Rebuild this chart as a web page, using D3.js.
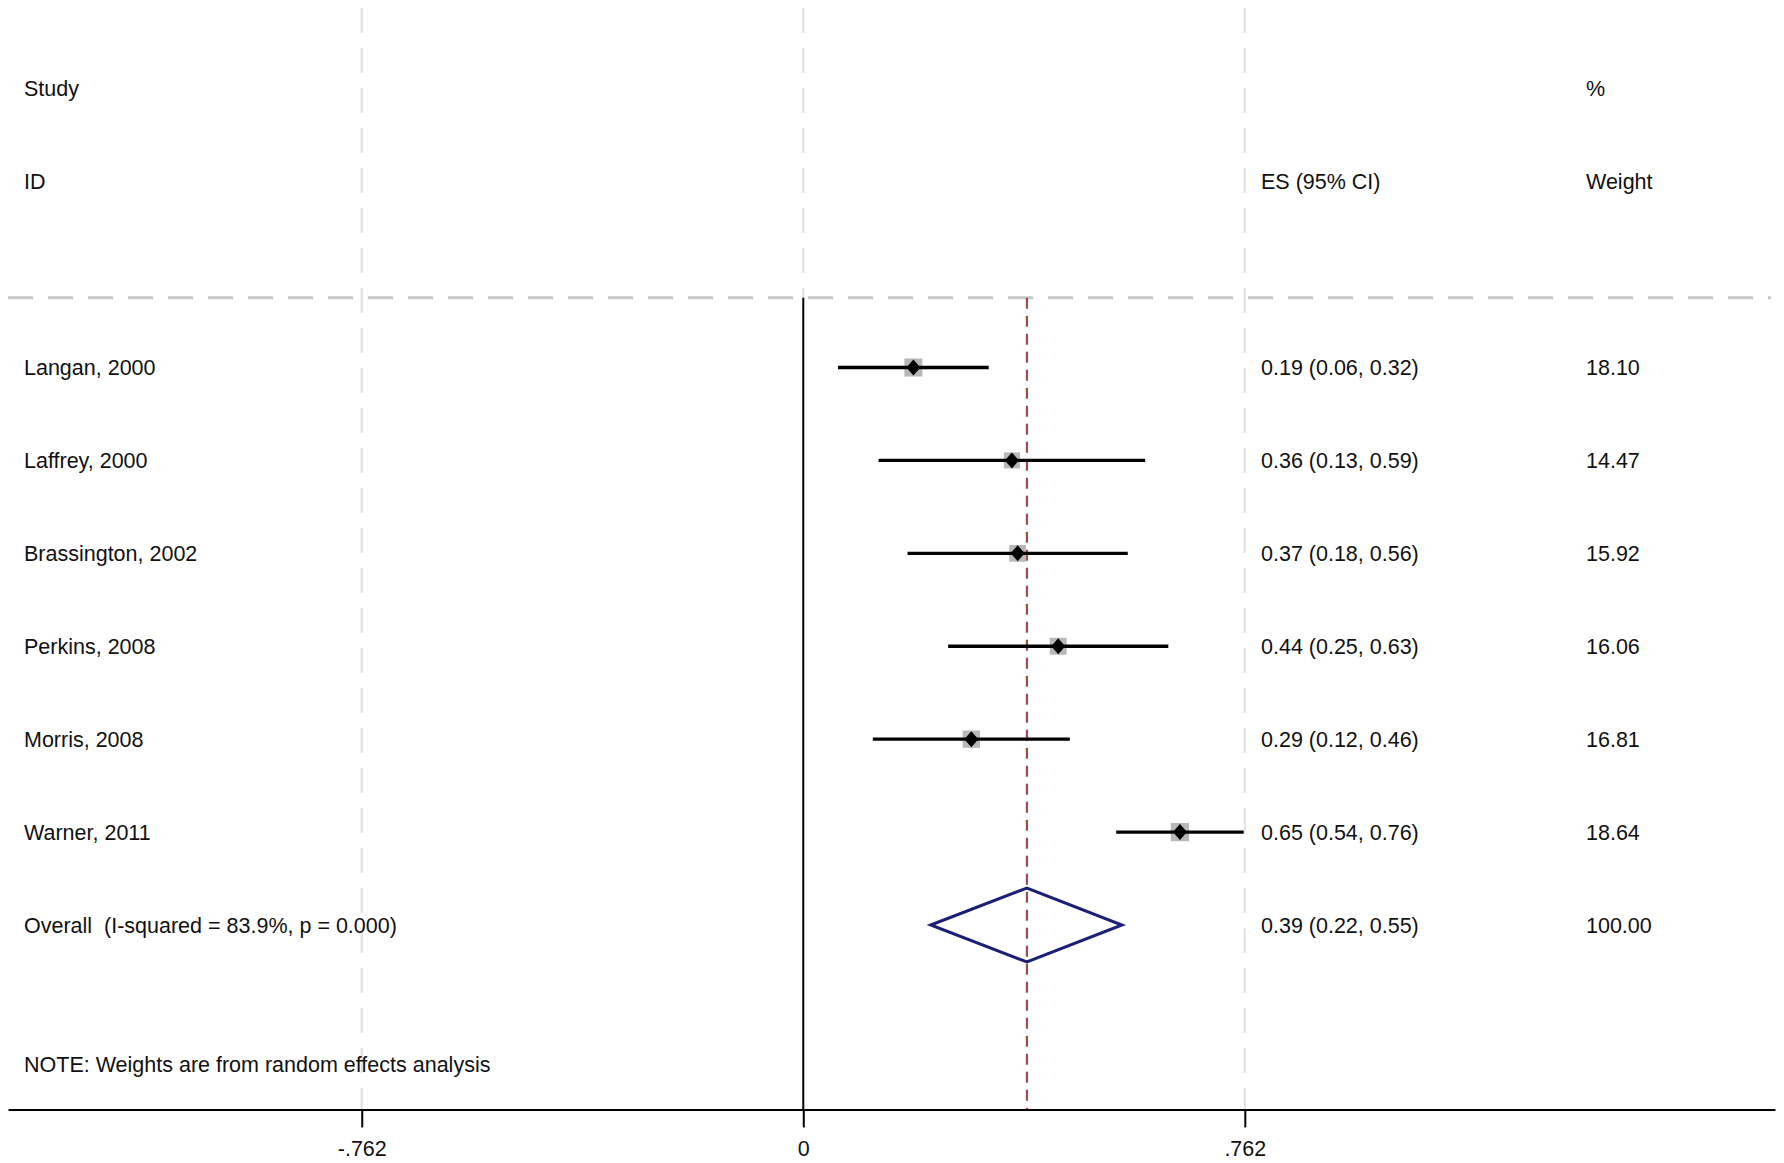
<!DOCTYPE html>
<html>
<head>
<meta charset="utf-8">
<script src="https://cdn.jsdelivr.net/npm/d3@7"></script>
<style>
  html, body { margin: 0; padding: 0; background: #fff; }
  #chart { width: 1784px; height: 1163px; }
  svg text { font-family: "Liberation Sans", Arial, Helvetica, sans-serif; font-size: 21.5px; fill: #111; white-space: pre; }
</style>
</head>
<body>
<div id="chart"></div>
<script>
// data
const studies = ["Langan, 2000", "Laffrey, 2000", "Brassington, 2002", "Perkins, 2008", "Morris, 2008", "Warner, 2011"]
const es = [0.19, 0.36, 0.37, 0.44, 0.29, 0.65]
const ciLow = [0.06, 0.13, 0.18, 0.25, 0.12, 0.54]
const ciHigh = [0.32, 0.59, 0.56, 0.63, 0.46, 0.76]
const weights = [18.10, 14.47, 15.92, 16.06, 16.81, 18.64]
const overallLabel = "Overall  (I-squared = 83.9%, p = 0.000)"
const overall = [0.386, 0.22, 0.55]   // es, low, high
const overallWeight = 100.00
const tickValues = [-0.762, 0, 0.762]
const note = "NOTE: Weights are from random effects analysis"

if (window.system == undefined) window.system = {}
system.forest = (function() {
    const that = this

    this.div = null
    this.width = 1784
    this.height = 1163
    this.xScale = null
    this.yScale = null
    this.sizeScale = null

    this.init = (idDiv) => {
        this.div = d3.select(idDiv)
        // x covers the whole panel, text columns included (stata style)
        this.xScale = d3.scaleLinear().domain([-1.3725, 1.677]).range([8, 1775])
        // rows: 0..5 studies, 6 overall
        this.yScale = d3.scaleLinear().domain([0, 6]).range([367.5, 925])
        this.sizeScale = d3.scaleSqrt().domain([0, 20]).range([0, 18.9])
        return that
    }

    this.render = () => {
        this.div.selectAll('svg').remove()
        const x = this.xScale, y = this.yScale

        const svg = this.div.append("svg")
            .attr("width", this.width)
            .attr("height", this.height)

        const rows = studies.map((s, i) => ({
            name: s, es: es[i], lo: ciLow[i], hi: ciHigh[i], w: weights[i], row: i
        }))
        const fmt = d3.format(".2f")
        const yTop = y(-3.87), yLine = y(-0.75), yAxis = y(7.985)

        // light vertical grid at the ticks
        svg.selectAll("line.vgrid")
            .data(tickValues)
            .join("line")
            .attr("class", "vgrid")
            .attr("x1", d => x(d)).attr("x2", d => x(d))
            .attr("y1", yTop)
            .attr("y2", d => d === 0 ? yLine : yAxis)
            .style("stroke", "#e5e5e5")
            .style("stroke-width", 2.5)
            .style("stroke-dasharray", "25 15")

        // header separator
        svg.append("line")
            .attr("x1", x.range()[0]).attr("x2", x.range()[1] - 4)
            .attr("y1", yLine).attr("y2", yLine)
            .style("stroke", "#c8c8c8")
            .style("stroke-width", 3)
            .style("stroke-dasharray", "25 15")

        // null line
        svg.append("line")
            .attr("x1", x(0)).attr("x2", x(0))
            .attr("y1", yLine).attr("y2", yAxis)
            .style("stroke", "#000")
            .style("stroke-width", 2)

        // pooled estimate line
        svg.append("line")
            .attr("x1", x(overall[0])).attr("x2", x(overall[0]))
            .attr("y1", yLine).attr("y2", yAxis)
            .style("stroke", "#a04a4a")
            .style("stroke-width", 2.2)
            .style("stroke-dasharray", "11 7")

        // weight boxes
        svg.selectAll("rect.wbox")
            .data(rows)
            .join("rect")
            .attr("class", "wbox")
            .attr("x", d => x(d.es) - this.sizeScale(d.w) / 2)
            .attr("y", d => y(d.row) - this.sizeScale(d.w) / 2)
            .attr("width", d => this.sizeScale(d.w))
            .attr("height", d => this.sizeScale(d.w))
            .style("fill", "#b8b8b8")

        // CIs
        svg.selectAll("line.ci")
            .data(rows)
            .join("line")
            .attr("class", "ci")
            .attr("x1", d => x(d.lo)).attr("x2", d => x(d.hi))
            .attr("y1", d => y(d.row)).attr("y2", d => y(d.row))
            .style("stroke", "#000")
            .style("stroke-width", 3.4)

        // point markers
        svg.selectAll("path.pt")
            .data(rows)
            .join("path")
            .attr("class", "pt")
            .attr("d", d => {
                const cx = x(d.es), cy = y(d.row)
                return `M${cx},${cy - 8}L${cx + 7},${cy}L${cx},${cy + 8}L${cx - 7},${cy}Z`
            })
            .style("fill", "#000")

        // overall diamond
        const oy = y(6)
        svg.append("path")
            .attr("d", `M${x(overall[1])},${oy}L${x(overall[0])},${oy - 37}L${x(overall[2])},${oy}L${x(overall[0])},${oy + 37}Z`)
            .style("fill", "none")
            .style("stroke", "#1b1f78")
            .style("stroke-width", 3)

        // text columns
        const xLab = 24, xES = 1261, xW = 1586
        const addText = (tx, ty, s) => svg.append("text")
            .attr("x", tx).attr("y", ty).attr("dy", "0.36em").text(s)

        addText(xLab, y(-3), "Study")
        addText(xLab, y(-2), "ID")
        addText(xES, y(-2), "ES (95% CI)")
        addText(xW, y(-3), "%")
        addText(xW, y(-2), "Weight")

        svg.selectAll("text.lab")
            .data(rows)
            .join("text")
            .attr("class", "lab")
            .attr("x", xLab).attr("y", d => y(d.row)).attr("dy", "0.36em")
            .text(d => d.name)
        svg.selectAll("text.esLab")
            .data(rows)
            .join("text")
            .attr("class", "esLab")
            .attr("x", xES).attr("y", d => y(d.row)).attr("dy", "0.36em")
            .text(d => `${fmt(d.es)} (${fmt(d.lo)}, ${fmt(d.hi)})`)
        svg.selectAll("text.wLab")
            .data(rows)
            .join("text")
            .attr("class", "wLab")
            .attr("x", xW).attr("y", d => y(d.row)).attr("dy", "0.36em")
            .text(d => fmt(d.w))

        addText(xLab, oy, overallLabel)
        addText(xES, oy, `${fmt(overall[0])} (${fmt(overall[1])}, ${fmt(overall[2])})`)
        addText(xW, oy, fmt(overallWeight))
        addText(xLab, y(7.5), note)

        // x axis, stata style ".762" with a plain hyphen
        const xAxis = d3.axisBottom(x)
            .tickValues(tickValues)
            .tickSize(18)
            .tickSizeOuter(0)
            .tickPadding(13)
            .tickFormat(d => d === 0 ? "0" : d.toFixed(3).replace("0.", "."))
        const gx = svg.append("g")
            .attr("transform", "translate(0," + yAxis + ")")
            .call(xAxis)
        gx.select(".domain").style("stroke", "#000").style("stroke-width", 2)
        gx.selectAll(".tick line").style("stroke", "#000").style("stroke-width", 2)
        gx.selectAll(".tick text")
            .style("font-family", '"Liberation Sans", Arial, sans-serif')
            .style("font-size", "21.5px")
            .style("fill", "#111")
    }

    return this
}).call({})

system.forest.init("#chart").render()
</script>
</body>
</html>
